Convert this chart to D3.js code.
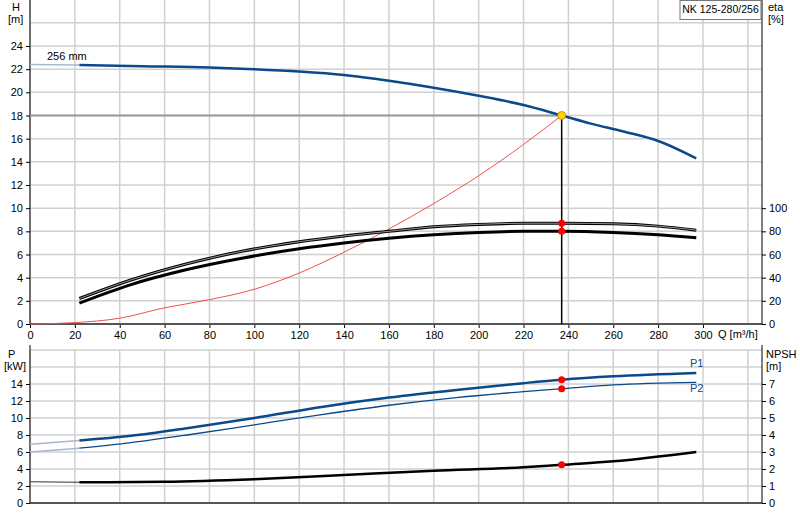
<!DOCTYPE html>
<html><head><meta charset="utf-8">
<script src="https://cdn.jsdelivr.net/npm/d3@7"></script>
<style>body{margin:0;background:#fff;font-family:Arial,"Liberation Sans",sans-serif}</style>
</head><body><svg id="c" width="800" height="520"></svg>
<script>
// data
const qTicks = [0,20,40,60,80,100,120,140,160,180,200,220,240,260,280,300];
const hTicks = [0,2,4,6,8,10,12,14,16,18,20,22,24];
const etaTicks = [0,20,40,60,80,100];
const pTicks = [0,2,4,6,8,10,12,14];
const npshTicks = [0,1,2,3,4,5,6,7];
const dutyQ = 237;

const hExt = [[0,22.4],[22,22.35]];
const hCurve = [[22,22.35],[50,22.25],[80,22.15],[100,22.0],[120,21.8],[140,21.5],[160,21.0],[180,20.4],[200,19.7],[220,18.9],[237,18.0],[250,17.3],[265,16.6],[280,15.8],[297,14.3]];
const sysCurve = [[0,0],[20,0.12],[40,0.5],[60,1.4],[80,2.1],[100,3.0],[120,4.4],[140,6.2],[160,8.2],[180,10.4],[200,12.8],[220,15.5],[237,18]];
const etaTop = [[22,22],[45,38],[70,52],[95,63],[120,71],[140,76],[160,80],[180,84],[200,86],[220,87],[237,87],[260,86.5],[280,84.5],[297,81]];
const etaLow = [[22,18],[45,34],[70,47],[95,57],[120,65],[140,70],[160,74],[180,77],[200,79],[220,80],[237,80],[260,79],[280,77],[297,74.5]];
const p1Ext = [[0,6.9],[22,7.35]];
const p1 = [[22,7.35],[45,7.9],[70,8.8],[100,10.0],[130,11.3],[160,12.4],[190,13.3],[220,14.1],[237,14.5],[260,14.9],[297,15.3]];
const p2Ext = [[0,6.0],[22,6.45]];
const p2 = [[22,6.45],[45,7.1],[70,8.0],[100,9.2],[130,10.4],[160,11.5],[190,12.4],[220,13.1],[237,13.45],[260,13.9],[297,14.2]];
const npshExt = [[0,1.25],[22,1.22]];
const npsh = [[22,1.22],[60,1.25],[100,1.4],[140,1.65],[180,1.9],[220,2.1],[237,2.25],[260,2.45],[297,3.0]];

const svg = d3.select("#c");
const L = 30, R = 762;
const x = d3.scaleLinear().domain([0,300]).range([L,703]);
const gridQ = d3.range(0,340,20).filter(d => x(d) < R);

// top chart scales
const yH = d3.scaleLinear().domain([0,24]).range([324,46]);
const yEta = d3.scaleLinear().domain([0,100]).range([324,yH(10)]);
// bottom chart scales
const yP = d3.scaleLinear().domain([0,14]).range([503,384]);
const yN = d3.scaleLinear().domain([0,7]).range([503,384]);

function grid(yScale, vals, top, bottom){
  const g = svg.append("g").attr("stroke","#d0d0d0").attr("stroke-width",1.5);
  vals.forEach(v => g.append("line").attr("x1",L).attr("x2",R).attr("y1",yScale(v)).attr("y2",yScale(v)));
  gridQ.forEach(q => g.append("line").attr("x1",x(q)).attr("x2",x(q)).attr("y1",top).attr("y2",bottom));
}
grid(yH, d3.range(2,28,2), 0, 324);
grid(yP, d3.range(2,20,2), 350, 503);

function line(data, ys, color, w){
  svg.append("path").datum(data).attr("fill","none").attr("stroke",color).attr("stroke-width",w)
    .attr("d", d3.line().x(d=>x(d[0])).y(d=>ys(d[1])).curve(d3.curveMonotoneX));
}

// axes top
svg.append("g").attr("transform",`translate(${L},0)`).call(d3.axisLeft(yH).tickValues(hTicks).tickSize(4));
svg.append("g").attr("transform",`translate(${R},0)`).call(d3.axisRight(yEta).tickValues(etaTicks).tickSize(4));
svg.append("g").attr("transform",`translate(0,324)`).call(d3.axisBottom(x).tickValues(qTicks).tickSize(4));
svg.append("line").attr("x1",L).attr("x2",R).attr("y1",324).attr("y2",324).attr("stroke","#555").attr("stroke-width",2);
svg.append("line").attr("x1",L).attr("x2",L).attr("y1",0).attr("y2",324).attr("stroke","#000");
svg.append("line").attr("x1",R).attr("x2",R).attr("y1",0).attr("y2",324).attr("stroke","#000");
// axes bottom
svg.append("g").attr("transform",`translate(${L},0)`).call(d3.axisLeft(yP).tickValues(pTicks).tickSize(4));
svg.append("g").attr("transform",`translate(${R},0)`).call(d3.axisRight(yN).tickValues(npshTicks).tickSize(4).tickFormat(d3.format("d")));
svg.append("line").attr("x1",L).attr("x2",R).attr("y1",503).attr("y2",503).attr("stroke","#555").attr("stroke-width",2);
svg.append("line").attr("x1",L).attr("x2",L).attr("y1",345).attr("y2",503).attr("stroke","#000");
svg.append("line").attr("x1",R).attr("x2",R).attr("y1",345).attr("y2",503).attr("stroke","#000");
svg.selectAll(".domain").remove();
svg.selectAll(".tick text").attr("font-size",11).attr("font-family","Arial,Liberation Sans").attr("fill","#000");

// top curves
svg.append("line").attr("x1",L).attr("x2",x(dutyQ)).attr("y1",yH(18)).attr("y2",yH(18)).attr("stroke","#999").attr("stroke-width",2);
svg.append("line").attr("x1",x(dutyQ)).attr("x2",x(dutyQ)).attr("y1",yH(18)).attr("y2",324).attr("stroke","#000").attr("stroke-width",1.5);
line(sysCurve, yH, "#f05050", 1);
line(hExt, yH, "#a8b8cc", 1.5);
line(hCurve, yH, "#0b4a8a", 2.5);
line(etaTop, yEta, "#000", 3); line(etaTop, yEta, "#bbb", 0.8);
line(etaLow, yEta, "#000", 3);
svg.append("circle").attr("cx",x(dutyQ)).attr("cy",yEta(87)).attr("r",3.5).attr("fill","red");
svg.append("circle").attr("cx",x(dutyQ)).attr("cy",yEta(80)).attr("r",3.5).attr("fill","red");
svg.append("circle").attr("cx",x(dutyQ)).attr("cy",yH(18)).attr("r",4).attr("fill","#ffd800").attr("stroke","#e08000");

// bottom curves
line(p1Ext, yP, "#a8b8cc", 1.5); line(p1, yP, "#0b4a8a", 2.5);
line(p2Ext, yP, "#a8b8cc", 1.5); line(p2, yP, "#0b4a8a", 1.3);
line(npshExt, yN, "#333", 1); line(npsh, yN, "#000", 2.5);
[[14.5,yP],[13.45,yP],[2.25,yN]].forEach(([v,s]) =>
  svg.append("circle").attr("cx",x(dutyQ)).attr("cy",s(v)).attr("r",3.5).attr("fill","red"));

// text
const t = (tx,ty,s,o={}) => svg.append("text").attr("x",tx).attr("y",ty).attr("font-size",o.fs||11)
  .attr("fill",o.fill||"#000").attr("text-anchor",o.a||"start").text(s);
t(12,11,"H"); t(8,23,"[m]");
t(768,11,"eta"); t(768,23,"[%]");
t(718,338,"Q [m³/h]");
t(47,60,"256 mm");
svg.append("rect").attr("x",680).attr("y",0.5).attr("width",81).attr("height",19).attr("fill","#fff").attr("stroke","#777");
t(720.5,13,"NK 125-280/256",{fs:10.5,a:"middle"});
t(8,358,"P"); t(4,370,"[kW]");
t(766,358,"NPSH"); t(766,370,"[m]");
t(690,367,"P1",{fill:"#0b4a8a"});
t(690,392,"P2",{fill:"#0b4a8a"});
</script></body></html>
